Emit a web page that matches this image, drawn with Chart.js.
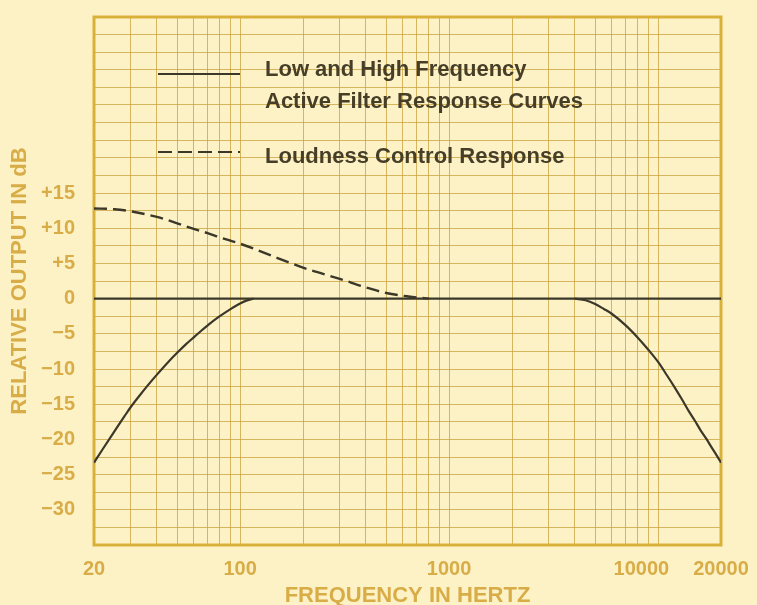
<!DOCTYPE html>
<html>
<head>
<meta charset="utf-8">
<script src="https://cdn.jsdelivr.net/npm/chart.js@4.4.1/dist/chart.umd.min.js"></script>
<style>
  html, body { margin: 0; padding: 0; background: #fdf2c6; }
  canvas { display: block; }
</style>
</head>
<body>
<canvas id="c" width="757" height="605"></canvas>
<script>
// ---- data ----
const flatFreq = [20, 20000];
const flatDb = [0, 0];

const lowFreq = [20, 22, 25, 28, 30, 33, 36, 40, 45, 50, 55, 60, 65, 70, 75, 80, 90, 100, 108, 116];
const lowDb   = [-23.3, -21.4, -18.9, -16.7, -15.4, -13.8, -12.4, -10.8, -9.1, -7.7, -6.5, -5.5, -4.6, -3.8, -3.1, -2.5, -1.5, -0.7, -0.25, 0];

const highFreq = [4000, 4500, 5000, 5500, 6000, 7000, 8000, 9000, 10000, 11000, 12000, 13000, 14000, 15000, 16000, 17000, 18000, 19000, 20000];
const highDb   = [0, -0.24, -0.78, -1.47, -2.15, -3.8, -5.55, -7.3, -9.0, -10.85, -12.6, -14.3, -15.95, -17.35, -18.75, -19.9, -21.1, -22.2, -23.3];

const loudFreq = [20, 25, 30, 40, 50, 60, 70, 80, 100, 150, 200, 300, 400, 500, 640, 800];
const loudDb   = [12.8, 12.7, 12.4, 11.6, 10.7, 9.9, 9.3, 8.7, 7.8, 5.8, 4.4, 2.8, 1.6, 0.8, 0.3, 0];

const xGridTicks = [20, 30, 40, 50, 60, 70, 80, 90, 100, 200, 300, 400, 500, 600, 700, 800, 900,
                    1000, 2000, 3000, 4000, 5000, 6000, 7000, 8000, 9000, 10000, 20000];
const xLabels = {20: '20', 100: '100', 1000: '1000', 10000: '10000', 20000: '20000'};
const yLabelValues = [15, 10, 5, 0, -5, -10, -15, -20, -25, -30];

const legendSolidLines = ['Low and High Frequency', 'Active Filter Response Curves'];
const legendDashedLine = 'Loudness Control Response';

// ---- styles ----
const BG = '#fdf2c6';
const GOLD = '#d8ad48';
const GRID = 'rgba(200,160,60,0.75)';
const INK = '#3b3829';
const FONT = '"Liberation Sans", Arial, sans-serif';

function pts(xs, ys) { return xs.map((x, i) => ({x: x, y: ys[i]})); }

const bgPlugin = {
  id: 'bg',
  beforeDraw(chart) {
    const ctx = chart.ctx;
    ctx.save();
    ctx.fillStyle = BG;
    ctx.fillRect(0, 0, chart.width, chart.height);
    ctx.restore();
  }
};

const framePlugin = {
  id: 'frame',
  beforeDatasetsDraw(chart) {
    const a = chart.chartArea, ctx = chart.ctx;
    ctx.save();
    ctx.strokeStyle = '#d9b03a';
    ctx.lineWidth = 3;
    ctx.strokeRect(a.left, a.top, a.right - a.left, a.bottom - a.top);
    ctx.restore();
  }
};

const legendPlugin = {
  id: 'customLegend',
  afterDatasetsDraw(chart) {
    const ctx = chart.ctx;
    ctx.save();
    ctx.strokeStyle = INK;
    ctx.lineWidth = 2.2;
    ctx.beginPath();
    ctx.moveTo(158, 74); ctx.lineTo(240, 74);
    ctx.stroke();
    ctx.setLineDash([14, 6]);
    ctx.beginPath();
    ctx.moveTo(158, 152); ctx.lineTo(240, 152);
    ctx.stroke();
    ctx.setLineDash([]);
    ctx.fillStyle = '#463e26';
    ctx.font = 'bold 22px ' + FONT;
    ctx.textBaseline = 'alphabetic';
    ctx.fillText(legendSolidLines[0], 265, 76);
    ctx.fillText(legendSolidLines[1], 265, 108);
    ctx.fillText(legendDashedLine, 265, 163);
    ctx.restore();
  }
};

const lineBase = {
  borderColor: INK,
  borderWidth: 2.2,
  pointRadius: 0,
  fill: false,
  cubicInterpolationMode: 'monotone'
};

new Chart(document.getElementById('c'), {
  type: 'line',
  data: {
    datasets: [
      Object.assign({label: 'flat', data: pts(flatFreq, flatDb)}, lineBase),
      Object.assign({label: 'low', data: pts(lowFreq, lowDb)}, lineBase),
      Object.assign({label: 'high', data: pts(highFreq, highDb)}, lineBase),
      Object.assign({label: 'loudness', data: pts(loudFreq, loudDb)}, lineBase, {borderDash: [13, 6], borderWidth: 2.4})
    ]
  },
  options: {
    responsive: false,
    animation: false,
    layout: { padding: { top: 17, right: 36, left: 0, bottom: 0 } },
    plugins: { legend: { display: false }, tooltip: { enabled: false } },
    scales: {
      x: {
        type: 'logarithmic',
        min: 20, max: 20000,
        afterBuildTicks(scale) { scale.ticks = xGridTicks.map(v => ({value: v})); },
        afterFit(scale) { scale.height = 60; scale.paddingLeft = 0; scale.paddingRight = 0; },
        border: { display: false },
        grid: { color: GRID, lineWidth: 1, drawTicks: false },
        ticks: {
          autoSkip: false, maxRotation: 0, padding: 12,
          color: GOLD,
          font: { family: FONT, size: 20, weight: 'bold' },
          callback(v) {
            if (v === 10000) return xLabels[v] + '      ';
            return xLabels[v] !== undefined ? xLabels[v] : '';
          }
        },
        title: {
          display: true, text: 'FREQUENCY IN HERTZ', color: GOLD,
          font: { family: FONT, size: 22, weight: 'bold', lineHeight: 0.8 },
          padding: { top: 0, bottom: 0 }
        }
      },
      y: {
        type: 'linear',
        min: -35, max: 40,
        afterBuildTicks(scale) {
          const t = [];
          for (let v = -35; v <= 40.001; v += 2.5) t.push({value: v});
          scale.ticks = t;
        },
        afterFit(scale) { scale.width = 94; scale.paddingTop = 0; scale.paddingBottom = 0; },
        border: { display: false },
        grid: { color: GRID, lineWidth: 1, drawTicks: false },
        ticks: {
          autoSkip: false, padding: 19,
          color: GOLD,
          font: { family: FONT, size: 20, weight: 'bold' },
          callback(v) {
            if (yLabelValues.indexOf(v) < 0) return '';
            if (v > 0) return '+' + v;
            if (v < 0) return '\u2212' + Math.abs(v);
            return '0';
          }
        },
        title: {
          display: true, text: 'RELATIVE OUTPUT IN dB', color: GOLD,
          font: { family: FONT, size: 22, weight: 'bold', lineHeight: 1 },
          padding: { top: 9, bottom: 0 }
        }
      }
    }
  },
  plugins: [bgPlugin, framePlugin, legendPlugin]
});
</script>
</body>
</html>
